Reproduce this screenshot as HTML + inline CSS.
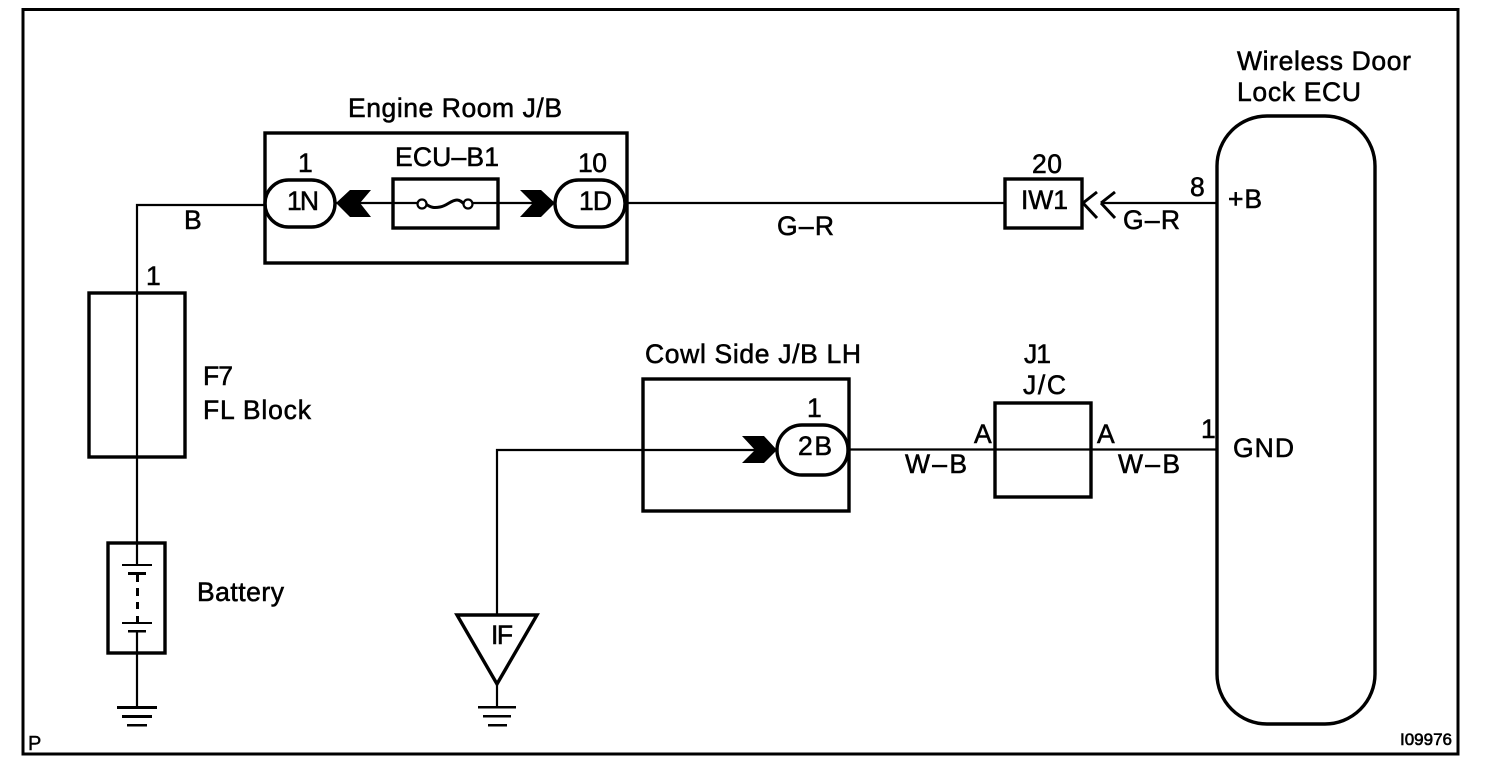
<!DOCTYPE html>
<html><head><meta charset="utf-8"><style>
html,body{margin:0;padding:0;background:#fff}
svg{display:block}
text{font-family:"Liberation Sans",sans-serif;font-size:26.5px;fill:#000;stroke:#000;stroke-width:.55px}
</style></head><body>
<svg width="1504" height="772" viewBox="0 0 1504 772" xmlns="http://www.w3.org/2000/svg">
<rect x="0" y="0" width="1504" height="772" fill="#fff"/>
<g fill="none" stroke="#000" stroke-width="3.4">
<rect x="23" y="9.5" width="1435" height="744.5" stroke-width="3"/>
<rect x="265" y="133" width="362" height="130"/>
<rect x="393" y="179" width="105" height="49"/>
<rect x="265" y="180" width="70" height="47" rx="23.5"/>
<rect x="555" y="180" width="70" height="47" rx="23.5"/>
<rect x="1005" y="179" width="77" height="49"/>
<rect x="1217" y="116" width="158" height="608" rx="50"/>
<rect x="89" y="293" width="96" height="164"/>
<rect x="108" y="543" width="57" height="110"/>
<rect x="643" y="379" width="206" height="132"/>
<rect x="777" y="425" width="71" height="50" rx="25"/>
<rect x="995" y="403" width="96" height="94"/>
<path d="M457 615H537L497 684Z"/>
</g>
<g fill="none" stroke="#000" stroke-width="2.2">
<path d="M265 205H137V565M137 632V707" />
<path d="M335 203H417M473 203H555"/>
<path d="M625 203H1005"/>
<path d="M1102 203H1217"/>
<path d="M497 615V450H777"/>
<path d="M497 684V707"/>
<path d="M848 449.5H1217"/>
<path d="M1083 203L1097 192M1083 203L1097 218M1101 203L1115 192M1101 203L1115 218" stroke-width="3"/>
<path d="M426 204C431 208 435 208 440 207C447 206 451 200 457 200C460 200 462 202 464 204" stroke-width="3"/>
</g>
<circle cx="422" cy="204" r="4.5" fill="#fff" stroke="#000" stroke-width="2.2"/>
<circle cx="468" cy="204" r="4.5" fill="#fff" stroke="#000" stroke-width="2.2"/>
<g fill="#000">
<path d="M336 203L350 190H371L360 203L371 217H350Z"/>
<path d="M520 190H541L555 203L541 217H520L533 203Z"/>
<path d="M742 436H764L777 450L764 463H742L755 450Z"/>
<!-- battery -->
<rect x="122" y="564" width="30" height="2"/>
<rect x="128" y="572" width="18" height="3"/>
<rect x="136" y="575" width="3" height="7"/>
<rect x="136" y="588" width="3" height="8"/>
<rect x="136" y="602" width="3" height="7"/>
<rect x="136" y="616" width="3" height="6"/>
<rect x="122" y="622" width="30" height="2"/>
<rect x="128" y="630" width="18" height="2.5"/>
<rect x="117" y="706" width="40" height="3"/>
<rect x="122" y="715" width="30" height="3"/>
<rect x="127" y="724" width="20" height="2.5"/>
<rect x="478" y="706" width="38" height="2.5"/>
<rect x="483" y="715" width="28" height="2.5"/>
<rect x="488" y="724" width="19" height="2.5"/>
</g>
<text x="348" y="117" textLength="214">Engine Room J/B</text>
<text x="395" y="166" textLength="104">ECU–B1</text>
<text x="298" y="172" textLength="12">1</text>
<text x="578" y="172" textLength="29">10</text>
<text x="287" y="210" textLength="32">1N</text>
<text x="579" y="210" textLength="33">1D</text>
<text x="184" y="229" textLength="18">B</text>
<text x="146" y="285" textLength="12">1</text>
<text x="777" y="235" textLength="57">G–R</text>
<text x="1032" y="173" textLength="30">20</text>
<text x="1021" y="209" textLength="47">IW1</text>
<text x="1190" y="196" textLength="15">8</text>
<text x="1123" y="229" textLength="57">G–R</text>
<text x="1228" y="208" textLength="34">+B</text>
<text x="1237" y="70" textLength="174">Wireless Door</text>
<text x="1237" y="101" textLength="124">Lock ECU</text>
<text x="203" y="385" textLength="30">F7</text>
<text x="203" y="419" textLength="108">FL Block</text>
<text x="197" y="601" textLength="87">Battery</text>
<text x="491" y="644" textLength="22">IF</text>
<text x="645" y="363" textLength="216">Cowl Side J/B LH</text>
<text x="807" y="417" textLength="12">1</text>
<text x="798" y="455" textLength="34">2B</text>
<text x="1024" y="363" textLength="27">J1</text>
<text x="1023" y="394" textLength="43">J/C</text>
<text x="974" y="443" textLength="18">A</text>
<text x="1097" y="443" textLength="19">A</text>
<text x="1201" y="438" textLength="12">1</text>
<text x="1233" y="457" textLength="61">GND</text>
<text x="905" y="473" textLength="62">W–B</text>
<text x="1118" y="473" textLength="62">W–B</text>
<text x="28" y="750" style="font-size:20px;stroke-width:.4px">P</text>
<text x="1400" y="745" textLength="52" style="font-size:17px;stroke-width:.6px">I09976</text>
</svg>
</body></html>
